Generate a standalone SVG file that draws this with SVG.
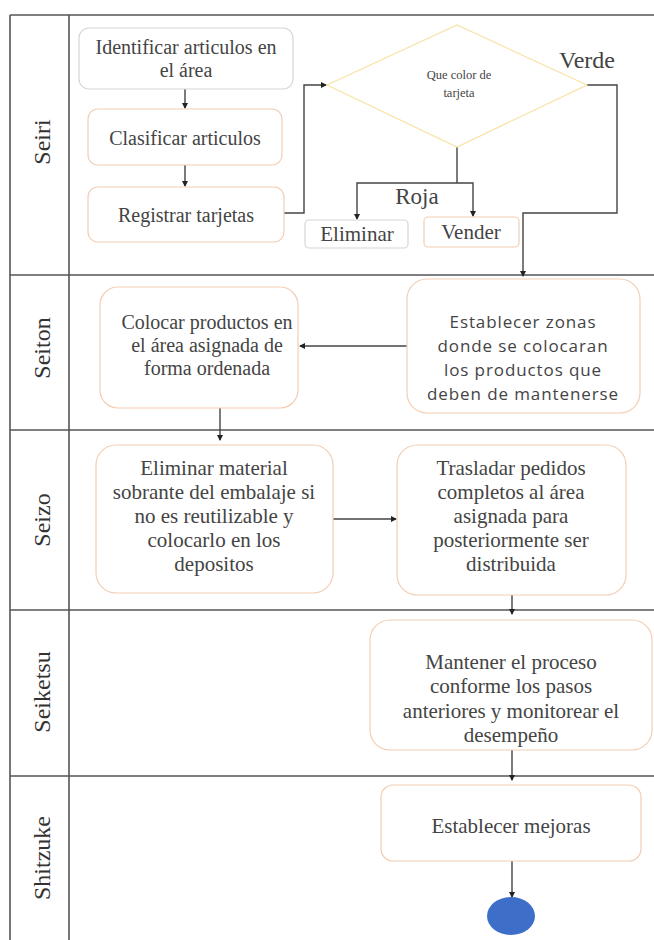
<svg xmlns="http://www.w3.org/2000/svg" width="654" height="940" viewBox="0 0 654 940">
<style>
.lane{stroke:#555;stroke-width:1.6;fill:none}
.lbl{font-family:"Liberation Serif",serif;font-size:24px;fill:#333;text-anchor:middle}
.box{fill:#fff;stroke:#f3cdb2;stroke-width:1.2}
.gbox{fill:#fff;stroke:#d6d6d6;stroke-width:1.2}
.t{font-family:"Liberation Serif",serif;font-size:20px;fill:#444;text-anchor:middle}
.u{font-family:"Liberation Serif",serif;font-size:21px;fill:#444;text-anchor:middle}
.s{font-family:"Open Sans","Liberation Sans",sans-serif;font-size:17px;letter-spacing:0.9px;fill:#444;text-anchor:middle}
.c{stroke:#444;stroke-width:1.4;fill:none;marker-end:url(#ah)}
.cn{stroke:#444;stroke-width:1.4;fill:none}
</style>
<defs>
<marker id="ah" viewBox="0 0 6 6" refX="5" refY="3" markerWidth="6" markerHeight="6" markerUnits="userSpaceOnUse" orient="auto">
<path d="M0,0 L6,3 L0,6 z" fill="#222"/>
</marker>
</defs>
<rect width="654" height="940" fill="#fff"/>
<g id="lanes">
<line class="lane" x1="10" y1="15" x2="654" y2="15"/>
<line class="lane" x1="10" y1="15" x2="10" y2="940"/>
<line class="lane" x1="69" y1="15" x2="69" y2="940"/>
<line class="lane" x1="10" y1="275" x2="654" y2="275"/>
<line class="lane" x1="10" y1="430" x2="654" y2="430"/>
<line class="lane" x1="10" y1="610" x2="654" y2="610"/>
<line class="lane" x1="10" y1="776" x2="654" y2="776"/>
<text class="lbl" transform="translate(50,142) rotate(-90)">Seiri</text>
<text class="lbl" transform="translate(50,348) rotate(-90)">Seiton</text>
<text class="lbl" transform="translate(50,520) rotate(-90)">Seizo</text>
<text class="lbl" transform="translate(50,692) rotate(-90)">Seiketsu</text>
<text class="lbl" transform="translate(50,858) rotate(-90)">Shitzuke</text>
</g>
<g id="connectors">
<path class="c" d="M185,89 V108"/>
<path class="c" d="M185,165 V186"/>
<path class="c" d="M284,213 H304 V85 H326"/>
<path class="cn" d="M457,147 V183"/>
<path class="c" d="M457,183 H357 V219"/>
<path class="c" d="M457,183 H473 V216"/>
<path class="c" d="M587,85 H617 V213 H523 V276"/>
<path class="c" d="M407,346 H300"/>
<path class="c" d="M220,408 V440"/>
<path class="c" d="M333,519 H396"/>
<path class="c" d="M512,595 V614"/>
<path class="c" d="M512,750 V780"/>
<path class="c" d="M512,861 V897"/>
<text x="417" y="204" font-family="Liberation Serif,serif" font-size="23" fill="#444" text-anchor="middle">Roja</text>
<text x="587" y="68" font-family="Liberation Serif,serif" font-size="24" fill="#444" text-anchor="middle">Verde</text>
</g>
<g id="n1">
<rect class="gbox" x="79" y="28" width="214" height="61" rx="10"/>
<text class="t" x="186" y="54">Identificar articulos en</text>
<text class="t" x="186" y="77">el área</text>
</g>
<g id="n2">
<rect class="box" x="88" y="109" width="194" height="56" rx="10"/>
<text class="t" x="185" y="145">Clasificar articulos</text>
</g>
<g id="n3">
<rect class="box" x="88" y="187" width="196" height="55" rx="10"/>
<text class="t" x="186" y="222">Registrar tarjetas</text>
</g>
<g id="n4">
<polygon points="327,85 457,25 587,85 457,147" fill="#fff" stroke="#f8e2a6" stroke-width="1.2"/>
<text x="459" y="79" font-family="Liberation Serif,serif" font-size="12.5" fill="#444" text-anchor="middle">Que color de</text>
<text x="459" y="97" font-family="Liberation Serif,serif" font-size="12.5" fill="#444" text-anchor="middle">tarjeta</text>
</g>
<g id="n5">
<rect class="gbox" x="305" y="220" width="103" height="28" rx="4"/>
<text class="u" x="357" y="241">Eliminar</text>
</g>
<g id="n6">
<rect class="box" x="424" y="217" width="95" height="30" rx="4"/>
<text class="u" x="471" y="239">Vender</text>
</g>
<g id="n7">
<rect class="box" x="407" y="279" width="233" height="134" rx="20"/>
<text class="s" x="523" y="328">Establecer zonas</text>
<text class="s" x="523" y="352">donde se colocaran</text>
<text class="s" x="523" y="376">los productos que</text>
<text class="s" x="523" y="400">deben de mantenerse</text>
</g>
<g id="n8">
<rect class="box" x="100" y="287" width="198" height="121" rx="18"/>
<text class="t" x="207" y="329">Colocar productos en</text>
<text class="t" x="207" y="352">el área asignada de</text>
<text class="t" x="207" y="375">forma ordenada</text>
</g>
<g id="n9">
<rect class="box" x="96" y="445" width="237" height="148" rx="20"/>
<text class="u" x="214" y="475">Eliminar  material</text>
<text class="u" x="214" y="499">sobrante del embalaje  si</text>
<text class="u" x="214" y="523">no es reutilizable  y</text>
<text class="u" x="214" y="547">colocarlo en los</text>
<text class="u" x="214" y="571">depositos</text>
</g>
<g id="n10">
<rect class="box" x="397" y="445" width="229" height="150" rx="20"/>
<text class="u" x="511" y="475">Trasladar pedidos</text>
<text class="u" x="511" y="499">completos al área</text>
<text class="u" x="511" y="523">asignada para</text>
<text class="u" x="511" y="547">posteriormente ser</text>
<text class="u" x="511" y="571">distribuida</text>
</g>
<g id="n11">
<rect class="box" x="370" y="620" width="282" height="130" rx="20"/>
<text class="u" x="511" y="669">Mantener el proceso</text>
<text class="u" x="511" y="693">conforme los pasos</text>
<text class="u" x="511" y="718">anteriores y monitorear el</text>
<text class="u" x="511" y="742">desempeño</text>
</g>
<g id="n12">
<rect class="box" x="381" y="785" width="260" height="76" rx="12"/>
<text class="u" x="511" y="833">Establecer mejoras</text>
</g>
<g id="end">
<ellipse cx="511" cy="916" rx="24" ry="19" fill="#3d6fc9"/>
</g>
</svg>
